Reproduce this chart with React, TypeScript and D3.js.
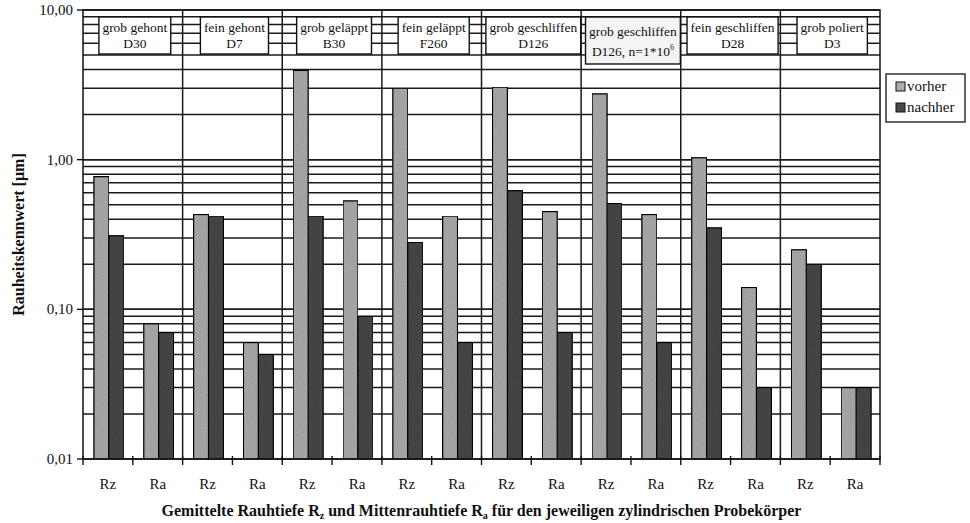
import React from "react";
import * as d3 from "d3";

const groupLabels: string[][] = [
  ["grob gehont", "D30"],
  ["fein gehont", "D7"],
  ["grob geläppt", "B30"],
  ["fein geläppt", "F260"],
  ["grob geschliffen", "D126"],
  ["grob geschliffen", "D126, n=1*10^6"],
  ["fein geschliffen", "D28"],
  ["grob poliert", "D3"],
];
const measures = ["Rz", "Ra"];
const vorher = [0.77, 0.08, 0.43, 0.06, 3.95, 0.53, 3.0, 0.42, 3.05, 0.45, 2.75, 0.43, 1.03, 0.14, 0.25, 0.03];
const nachher = [0.31, 0.07, 0.42, 0.05, 0.42, 0.09, 0.28, 0.06, 0.62, 0.07, 0.51, 0.06, 0.35, 0.03, 0.2, 0.03];
const yTicks = [10, 1, 0.1, 0.01];
const seriesNames = ["vorher", "nachher"];

const W = 970, H = 523;
const L = 83, R = 880, T = 10, B = 459;
const FONT = "Liberation Serif, Times New Roman, serif";
const colors = ["#adadad", "#4a4a4a"];

function measure(text: string, font: string) {
  const c = document.createElement("canvas").getContext("2d");
  if (!c) return text.length * 6.5;
  c.font = font;
  return c.measureText(text).width;
}

export default function App() {
  const cats = d3.range(16).map(String);
  const x = d3.scaleBand<string>().domain(cats).range([L, R]).padding(0);
  const y = d3.scaleLog().domain([0.01, 10]).range([B, T]);
  const bw = x.bandwidth();
  const barW = bw * 0.3;
  const grid: number[] = [];
  [0.01, 0.1, 1].forEach((d) => {
    for (let k = 1; k <= 10; k++) grid.push(d * k);
  });
  const fmt = (v: number) => v.toFixed(2).replace(".", ",");
  const hdrFont = `13.5px "Liberation Serif"`;
  const ts = { fontFamily: FONT } as React.CSSProperties;

  return (
    <svg width={W} height={H} style={{ position: "absolute", left: 0, top: 0, background: "#fff", fontFamily: FONT }}>
      <defs>
        <filter id="grain" x="0" y="0" width="1" height="1">
          <feTurbulence type="fractalNoise" baseFrequency="0.9" numOctaves="1" seed="3" result="n" />
          <feColorMatrix in="n" type="matrix" values="0 0 0 0 0  0 0 0 0 0  0 0 0 0 0  0 0 0 0.25 0" result="a" />
          <feComposite in="a" in2="SourceGraphic" operator="in" result="b" />
          <feMerge>
            <feMergeNode in="SourceGraphic" />
            <feMergeNode in="b" />
          </feMerge>
        </filter>
      </defs>
      {grid.map((g, i) => (
        <line key={"g" + i} x1={L} x2={R} y1={y(g)} y2={y(g)} stroke="#1a1a1a" strokeWidth={1.5} />
      ))}
      {d3.range(1, 8).map((k) => (
        <line key={"v" + k} x1={x(String(k * 2))!} x2={x(String(k * 2))!} y1={T} y2={B} stroke="#1a1a1a" strokeWidth={1.5} />
      ))}
      {cats.map((c, i) => {
        const cx = x(c)! + bw / 2 + 1;
        return (
          <g key={"b" + i}>
            {[vorher[i], nachher[i]].map((v, s) => (
              <rect
                key={s}
                x={cx - barW + s * barW}
                y={y(v)}
                width={barW}
                height={B - y(v)}
                fill={colors[s]}
                stroke="#111"
                strokeWidth={1.3}
                filter="url(#grain)"
              />
            ))}
          </g>
        );
      })}
      <rect x={L} y={T} width={R - L} height={B - T} fill="none" stroke="#111" strokeWidth={1.5} />
      {groupLabels.map((lab, k) => {
        const gx = x(String(k * 2))! + bw + 2;
        const tall = lab[1].includes("^");
        const t2 = lab[1].replace("^6", "6");
        const wTxt = Math.max(measure(lab[0], hdrFont), measure(t2, hdrFont));
        const bwid = wTxt + 7;
        const top = 17;
        const hgt = tall ? 47 : 37;
        return (
          <g key={"h" + k}>
            <rect x={gx - bwid / 2} y={top} width={bwid} height={hgt} fill={tall ? "#f4f4f4" : "#fff"} stroke="#111" strokeWidth={1.4} />
            <text x={gx} y={top + (tall ? 19 : 15)} textAnchor="middle" fontSize={13.5} fill="#111" style={ts}>
              {lab[0]}
            </text>
            <text x={gx} y={top + (tall ? 39 : 31)} textAnchor="middle" fontSize={13.5} fill="#111" style={ts}>
              {tall ? (
                <>
                  {lab[1].split("^")[0]}
                  <tspan fontSize={8} dy={-6}>
                    {lab[1].split("^")[1]}
                  </tspan>
                </>
              ) : (
                lab[1]
              )}
            </text>
          </g>
        );
      })}
      {yTicks.map((t) => (
        <g key={"yt" + t}>
          <line x1={L - 6} x2={L} y1={y(t)} y2={y(t)} stroke="#111" strokeWidth={1.4} />
          <text x={L - 10} y={y(t) + 5} textAnchor="end" fontSize={15} fill="#111" style={ts}>
            {fmt(t)}
          </text>
        </g>
      ))}
      {d3.range(0, 17).map((k) => {
        const xx = k < 16 ? x(String(k))! : R;
        return <line key={"xt" + k} x1={xx} x2={xx} y1={B - 3} y2={B + 6} stroke="#111" strokeWidth={1.4} />;
      })}
      {cats.map((c, i) => (
        <text key={"xl" + i} x={x(c)! + bw / 2} y={489} textAnchor="middle" fontSize={15} fill="#111" style={ts}>
          {measures[i % 2]}
        </text>
      ))}
      <text x={(L + R) / 2} y={516} textAnchor="middle" fontSize={16} fontWeight="bold" fill="#111" style={ts}>
        Gemittelte Rauhtiefe R<tspan fontSize={10} dy={3}>z</tspan>
        <tspan dy={-3}> und Mittenrauhtiefe R</tspan>
        <tspan fontSize={10} dy={3}>a</tspan>
        <tspan dy={-3}> für den jeweiligen zylindrischen Probekörper</tspan>
      </text>
      <text transform={`translate(24,${(T + B) / 2}) rotate(-90)`} textAnchor="middle" fontSize={16} fontWeight="bold" fill="#111" style={ts}>
        Rauheitskennwert [µm]
      </text>
      <rect x={886} y={74} width={79} height={48} fill="#fff" stroke="#111" strokeWidth={1.3} />
      {seriesNames.map((s, i) => (
        <g key={"lg" + i}>
          <rect x={896} y={82 + i * 21} width={9} height={9} fill={colors[i]} stroke="#111" strokeWidth={1} />
          <text x={907} y={91 + i * 21} fontSize={15} fill="#111" style={ts}>
            {s}
          </text>
        </g>
      ))}
    </svg>
  );
}
